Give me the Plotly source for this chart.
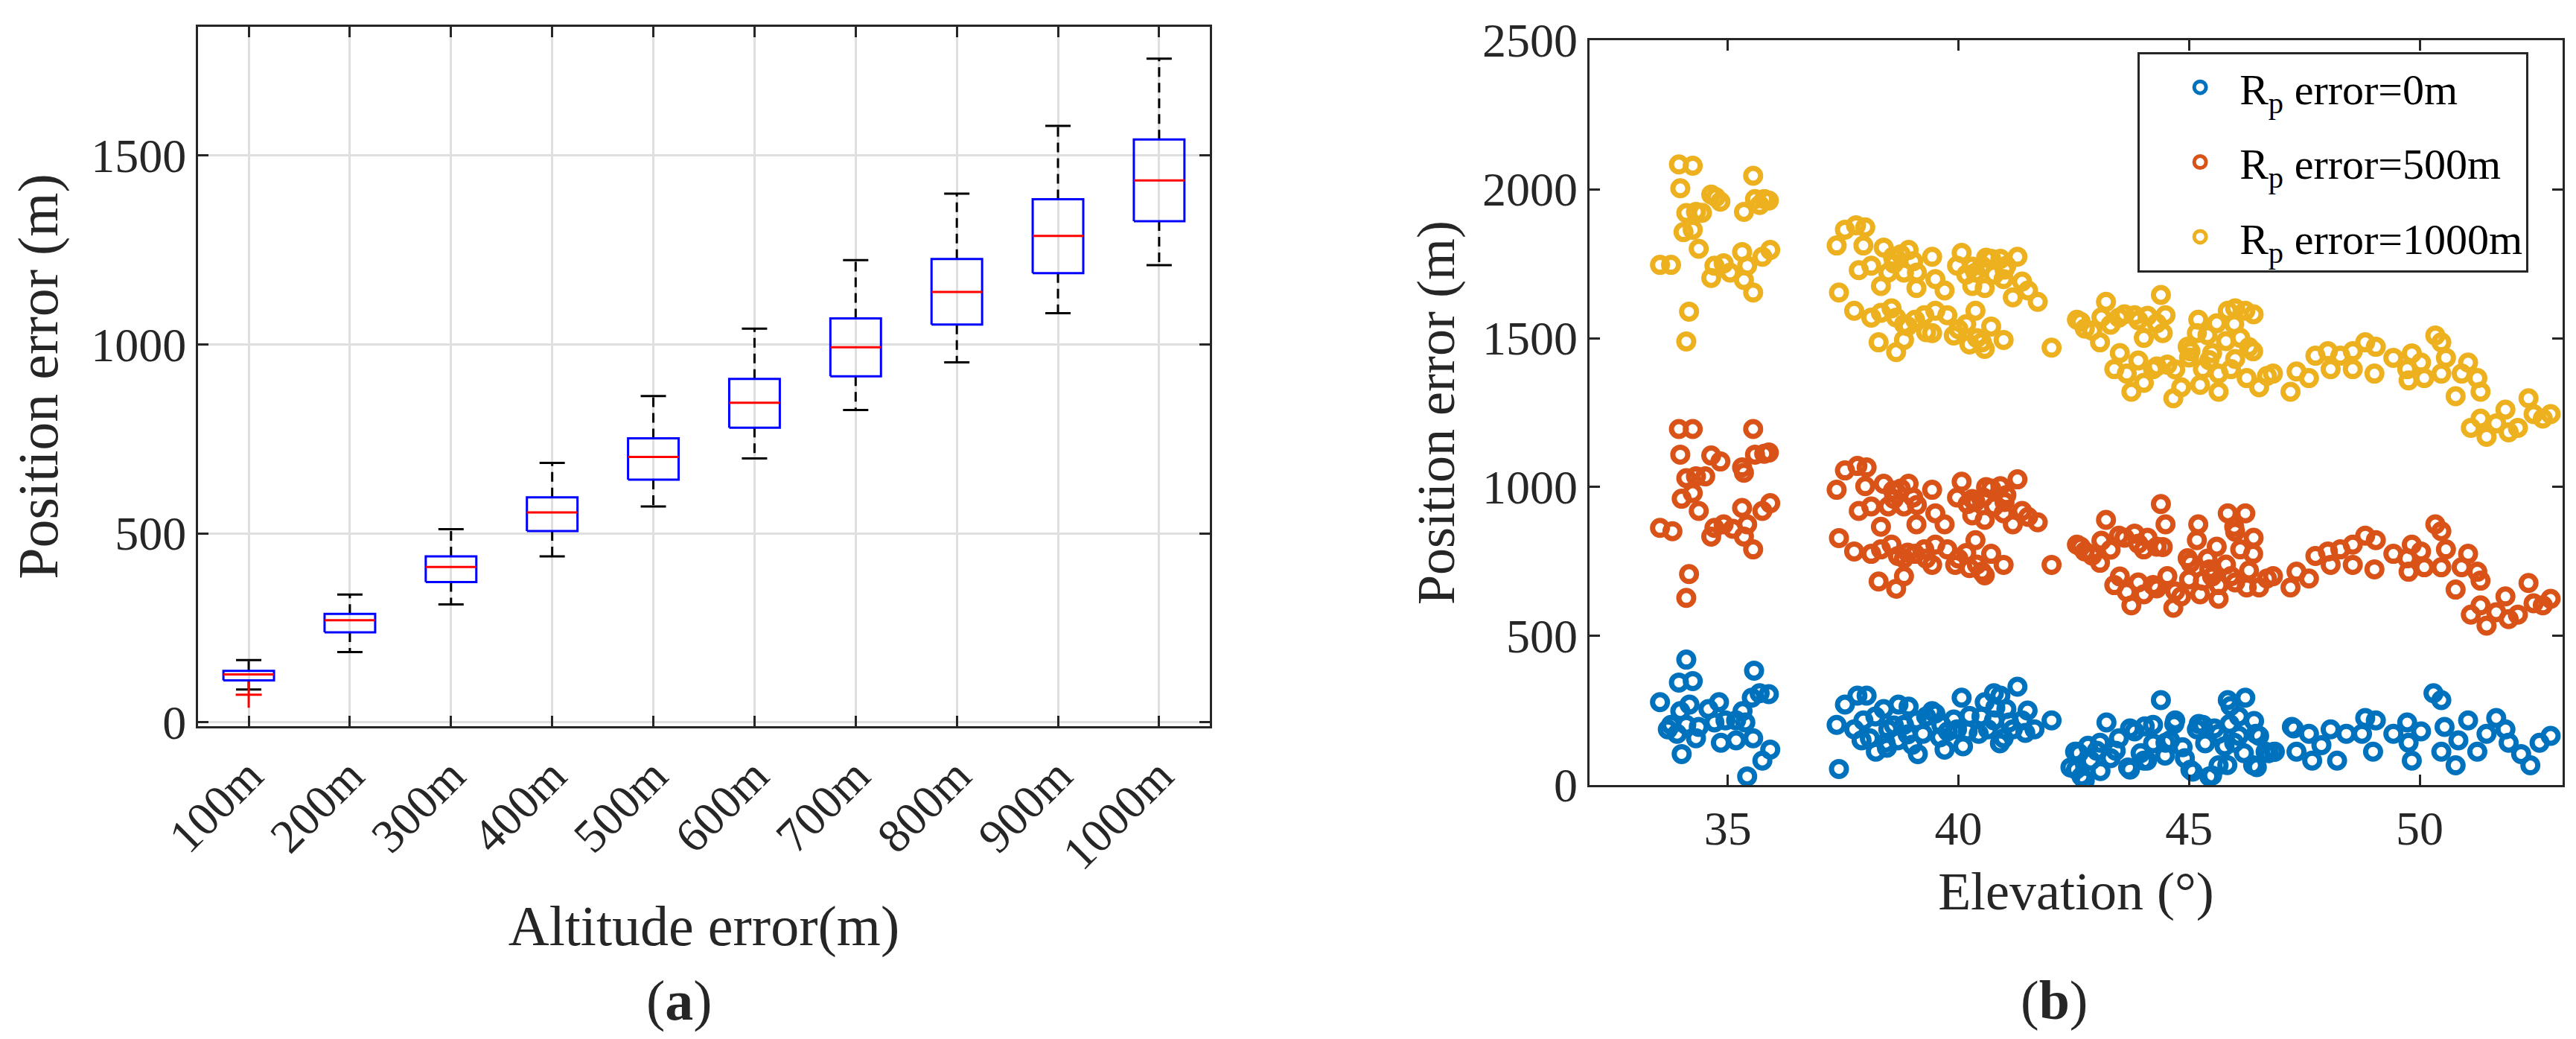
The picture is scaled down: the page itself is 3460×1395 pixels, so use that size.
import plotly.graph_objects as go

# ---- panel (a): box plot summary ----
alt_labels = ['100m', '200m', '300m', '400m', '500m', '600m', '700m', '800m', '900m', '1000m']
whisk_lo = [87, 186, 312, 439, 571, 698, 826, 952, 1082, 1209]
box_q1 = [111, 238, 371, 506, 642, 779, 915, 1052, 1188, 1325]
box_med = [127, 270, 411, 555, 702, 845, 992, 1138, 1286, 1433]
box_q3 = [136, 287, 439, 595, 751, 908, 1068, 1225, 1383, 1541]
whisk_hi = [165, 338, 511, 686, 863, 1041, 1222, 1398, 1577, 1755]
outlier_cat = [0]
outlier_val = [73]

# ---- panel (b): scatter ----
elev_0 = [34.10, 35.57, 33.94, 34.24, 33.53, 34.17, 33.97, 34.58, 34.81, 35.32, 35.52, 35.69, 35.89, 33.70, 33.90,
          34.10, 34.37, 34.71, 34.95, 35.18, 35.38, 34.31, 34.85, 35.18, 35.55, 34.00, 35.92, 35.75, 35.42, 33.77,
          37.36, 37.54, 37.81, 38.01, 37.41, 37.74, 37.94, 38.08, 38.21, 38.38, 38.48, 38.69, 38.92, 39.09, 39.23,
          39.12, 39.43, 39.63, 39.70, 39.97, 40.07, 40.24, 40.44, 40.57, 40.77, 40.91, 41.04, 41.28, 40.77, 40.98,
          41.18, 41.38, 41.65, 42.02, 38.82, 39.77, 40.64, 38.42,
          38.20, 38.60, 38.90, 39.30, 39.60, 39.90, 40.20, 40.50, 40.80, 41.10, 41.45, 38.45, 39.00, 39.50, 40.10,
          40.90, 41.50, 38.70, 37.90,
          42.43, 42.53, 42.57, 42.67, 42.87, 43.07, 43.21, 43.48, 43.68, 43.82, 44.02, 44.22, 44.39, 44.49, 44.70,
          44.86, 45.03, 45.17, 45.44, 45.64, 45.84, 45.98, 46.22, 46.45, 46.39, 46.66, 46.86, 45.30, 45.64, 47.23,
          47.33, 47.60, 47.67, 47.87, 48.07, 48.21, 48.41, 48.75, 48.82, 49.05, 48.99, 49.43, 49.73, 49.76, 49.83,
          50.03, 50.30, 50.47, 50.54, 50.47, 50.78, 50.84, 51.05, 51.25, 51.45, 51.66, 51.86, 51.93, 52.20, 52.40,
          52.60, 52.84,
          42.61, 42.55, 42.74, 43.08, 43.72, 44.09, 44.48, 43.72, 44.04, 44.68, 45.21, 45.55, 46.41, 46.52, 46.73,
          46.84, 46.47, 45.83, 45.50, 45.08, 44.91, 43.41, 43.00, 44.22, 44.59, 45.35, 45.77, 46.08, 46.19, 42.81,
          43.95, 43.30, 45.88, 46.08, 45.90, 47.27]
err_0 = [421, 384, 344, 349, 278, 270, 248, 255, 278, 248, 293, 308, 305, 187, 172,
         202, 195, 210, 217, 217, 210, 157, 142, 150, 157, 104, 119, 82, 29, 202,
         202, 270, 300, 300, 54, 187, 217, 157, 112, 255, 187, 150, 263, 217, 172,
         104, 248, 202, 119, 187, 293, 232, 172, 278, 308, 300, 255, 330, 217, 157,
         187, 217, 187, 217, 202, 180, 187, 142,
         230, 200, 170, 230, 160, 220, 180, 230, 260, 210, 175, 125, 135, 240, 130,
         140, 250, 270, 150,
         59, 112, 112, 29, 82, 142, 210, 157, 59, 180, 82, 202, 285, 142, 217,
         127, 51, 187, 29, 66, 285, 142, 293, 172, 66, 112, 112, 202, 172, 195,
         112, 172, 82, 134, 187, 82, 172, 172, 225, 217, 112, 172, 210, 142, 82,
         180, 308, 285, 195, 112, 66, 150, 217, 112, 172, 225, 187, 142, 104, 66,
         142, 165,
         107, 52, 15, 47, 52, 82, 99, 190, 197, 205, 205, 190, 215, 165, 107,
         111, 60, 67, 32, 45, 90, 115, 115, 140, 150, 140, 130, 165, 107, 132,
         107, 90, 205, 230, 265, 190]

elev_500 = [33.94, 34.24, 35.55, 33.97, 34.64, 34.84, 35.31, 35.59, 35.79, 35.89, 34.10, 34.31, 34.51, 35.35, 34.00,
            34.24, 34.37, 33.53, 33.80, 34.71, 34.91, 34.64, 35.11, 35.31, 35.42, 35.35, 35.75, 35.92, 35.55, 34.16,
            34.10,
            37.36, 37.54, 37.81, 38.01, 37.98, 37.41, 37.74, 37.84, 38.11, 38.38, 38.58, 38.75, 38.92, 39.02, 38.48,
            38.82, 38.32, 38.11, 38.32, 38.55, 38.69, 38.82, 38.27, 38.65, 38.82, 39.09, 39.43, 39.50, 39.70, 39.06,
            39.26, 39.43, 39.50, 39.76, 39.93, 40.07, 39.97, 40.20, 40.37, 40.54, 40.71, 40.91, 40.77, 41.04, 41.28,
            40.30, 40.57, 40.98, 41.38, 41.51, 41.72, 41.18, 40.37, 40.17, 40.24, 40.51, 40.57, 40.71, 40.98, 42.02,
            38.60, 39.10, 40.30, 40.60, 41.00, 38.90, 39.30, 40.00, 40.40,
            42.57, 42.74, 43.07, 43.20, 43.48, 43.82, 44.02, 44.39, 44.49, 44.43, 43.38, 43.65, 43.75, 44.02, 44.22,
            44.53, 44.66, 44.83, 44.97, 45.20, 45.17, 45.03, 45.30, 45.44, 45.24, 45.64, 45.84, 45.98, 46.22, 46.11,
            46.39, 45.91, 46.25, 46.52, 46.69, 46.82, 45.64, 47.20, 47.33, 47.60, 47.74, 48.01, 48.28, 48.55, 48.82,
            49.05, 48.07, 48.55, 49.02, 49.43, 49.73, 49.83, 50.03, 49.76, 50.10, 50.34, 50.47, 50.57, 50.47, 50.78,
            50.91, 51.05, 51.25, 51.32, 51.11, 51.32, 51.45, 51.66, 51.86, 51.93, 52.13, 52.36, 52.47, 52.67, 52.84,
            42.65, 42.90, 43.10, 43.30, 43.60, 43.90, 44.10, 44.30, 43.50, 43.90, 44.30, 44.70, 45.00, 45.50, 45.80,
            46.00, 46.30, 45.60, 46.00, 46.40, 45.40]
err_500 = [1195, 1195, 1195, 1109, 1106, 1086, 1066, 1109, 1112, 1116, 1030, 1036, 1036, 1048, 961,
           980, 920, 863, 852, 863, 875, 834, 860, 930, 875, 834, 920, 946, 791, 708,
           628,
           991, 1056, 1071, 1066, 1003, 829, 784, 920, 935, 1011, 988, 995, 1011, 965, 935,
           935, 867, 776, 791, 807, 769, 761, 683, 659, 701, 875, 991, 912, 875, 776,
           791, 739, 807, 791, 739, 1018, 965, 943, 950, 965, 995, 1003, 935, 973, 1026,
           905, 890, 912, 920, 900, 882, 875, 822, 779, 728, 716, 704, 776, 739, 739,
           960, 940, 960, 1000, 950, 780, 760, 760, 740,
           807, 784, 746, 890, 837, 844, 791, 943, 875, 799, 671, 648, 603, 640, 671,
           701, 595, 633, 761, 875, 822, 746, 686, 724, 640, 625, 912, 867, 912, 791,
           776, 701, 663, 663, 693, 701, 671, 663, 716, 693, 769, 784, 791, 807, 837,
           822, 739, 739, 724, 776, 761, 807, 784, 716, 731, 875, 852, 791, 731, 656,
           731, 776, 716, 686, 572, 603, 535, 580, 633, 557, 572, 678, 610, 603, 625,
           800, 770, 820, 790, 830, 810, 830, 800, 700, 680, 660, 650, 690, 700, 740,
           680, 720, 800, 850, 830, 760]

elev_1000 = [33.94, 34.24, 35.55, 33.97, 34.64, 34.84, 34.74, 34.10, 34.31, 34.44, 35.35, 35.59, 35.79, 35.89, 35.69,
             34.04, 34.24, 34.37, 33.53, 33.77, 34.71, 34.91, 34.64, 35.31, 35.92, 35.75, 35.42, 35.35, 35.55, 35.05,
             34.16, 34.10,
             37.36, 37.54, 37.78, 37.98, 37.94, 37.41, 37.74, 37.84, 38.11, 38.38, 38.58, 38.75, 38.92, 39.02, 38.48,
             38.82, 38.32, 38.11, 38.32, 38.55, 38.65, 38.82, 38.27, 38.65, 38.82, 39.09, 39.43, 39.50, 39.70, 39.06,
             39.26, 39.43, 39.50, 39.76, 39.90, 40.07, 39.97, 40.17, 40.37, 40.51, 40.71, 40.91, 40.77, 41.04, 41.28,
             40.30, 40.57, 40.98, 41.38, 41.51, 41.72, 41.18, 40.37, 40.17, 40.24, 40.51, 40.57, 40.71, 40.98, 42.02,
             38.60, 39.10, 40.30, 40.60, 41.00, 38.90, 39.30, 40.00, 40.40,
             42.57, 42.74, 43.07, 43.20, 43.48, 43.82, 44.02, 44.39, 44.49, 44.43, 43.38, 43.65, 43.75, 44.02, 44.22,
             44.53, 44.66, 44.83, 44.97, 45.20, 45.17, 45.03, 45.30, 45.44, 45.24, 45.64, 45.84, 45.98, 46.22, 46.11,
             46.39, 45.91, 46.25, 46.52, 46.69, 46.82, 45.64, 47.20, 47.33, 47.60, 47.74, 48.01, 48.28, 48.55, 48.82,
             49.05, 48.07, 48.55, 49.02, 49.43, 49.73, 49.83, 50.03, 49.76, 50.10, 50.34, 50.47, 50.57, 50.47, 50.78,
             50.91, 51.05, 51.25, 51.32, 51.11, 51.32, 51.45, 51.66, 51.86, 51.93, 52.13, 52.36, 52.47, 52.67, 52.84,
             42.65, 42.90, 43.10, 43.30, 43.60, 43.90, 44.10, 44.30, 43.50, 43.90, 44.30, 44.70, 45.00, 45.50, 45.80,
             46.00, 46.30, 45.60, 46.00, 46.40, 45.40]
err_1000 = [2083, 2079, 2045, 2003, 1982, 1958, 1973, 1920, 1924, 1921, 1924, 1967, 1967, 1962, 1947,
            1856, 1864, 1800, 1746, 1746, 1743, 1751, 1702, 1789, 1796, 1773, 1743, 1695, 1653, 1720,
            1589, 1489,
            1811, 1864, 1879, 1872, 1811, 1653, 1592, 1728, 1743, 1804, 1773, 1781, 1796, 1758, 1720,
            1720, 1675, 1569, 1585, 1600, 1569, 1547, 1486, 1453, 1494, 1668, 1773, 1698, 1660, 1562,
            1577, 1517, 1592, 1577, 1509, 1786, 1743, 1713, 1720, 1743, 1766, 1766, 1713, 1743, 1773,
            1675, 1668, 1698, 1690, 1660, 1622, 1637, 1592, 1547, 1479, 1486, 1464, 1539, 1494, 1468,
            1750, 1720, 1740, 1770, 1730, 1540, 1520, 1530, 1500,
            1562, 1532, 1486, 1622, 1569, 1577, 1501, 1645, 1577, 1517, 1396, 1381, 1320, 1350, 1396,
            1411, 1298, 1335, 1471, 1562, 1517, 1456, 1396, 1426, 1343, 1320, 1592, 1547, 1592, 1501,
            1456, 1396, 1366, 1335, 1373, 1381, 1381, 1320, 1388, 1366, 1441, 1456, 1441, 1456, 1486,
            1471, 1396, 1396, 1381, 1434, 1396, 1449, 1418, 1358, 1366, 1509, 1486, 1434, 1381, 1305,
            1381, 1418, 1366, 1320, 1199, 1230, 1169, 1214, 1260, 1184, 1199, 1298, 1245, 1230, 1245,
            1555, 1525, 1570, 1545, 1580, 1560, 1575, 1550, 1450, 1425, 1405, 1395, 1435, 1450, 1490,
            1430, 1470, 1550, 1600, 1580, 1510]

FONT = 'Liberation Serif'
AX = '#262626'

fig = go.Figure()

# build box outlines, medians, whiskers and caps from the summary arrays
bx, by, mx, my, wx, wy, cx, cy = [], [], [], [], [], [], [], []
hw, cw = 0.25, 0.125
for i in range(len(alt_labels)):
    bx += [i - hw, i + hw, i + hw, i - hw, i - hw, None]
    by += [box_q1[i], box_q1[i], box_q3[i], box_q3[i], box_q1[i], None]
    mx += [i - hw, i + hw, None]
    my += [box_med[i], box_med[i], None]
    wx += [i, i, None, i, i, None]
    wy += [box_q3[i], whisk_hi[i], None, box_q1[i], whisk_lo[i], None]
    cx += [i - cw, i + cw, None, i - cw, i + cw, None]
    cy += [whisk_hi[i], whisk_hi[i], None, whisk_lo[i], whisk_lo[i], None]

fig.add_trace(go.Scatter(x=wx, y=wy, mode='lines', line=dict(color='black', width=3, dash='13px,8px'),
                         showlegend=False, xaxis='x', yaxis='y'))
fig.add_trace(go.Scatter(x=cx, y=cy, mode='lines', line=dict(color='black', width=3),
                         showlegend=False, xaxis='x', yaxis='y'))
fig.add_trace(go.Scatter(x=bx, y=by, mode='lines', line=dict(color='#0000ff', width=3),
                         showlegend=False, xaxis='x', yaxis='y'))
fig.add_trace(go.Scatter(x=mx, y=my, mode='lines', line=dict(color='#ff0000', width=3),
                         showlegend=False, xaxis='x', yaxis='y'))
fig.add_trace(go.Scatter(x=outlier_cat, y=outlier_val, mode='markers',
                         marker=dict(symbol='cross-thin', size=25, line=dict(color='#ff0000', width=3)),
                         showlegend=False, xaxis='x', yaxis='y'))

series = [
    (elev_0, err_0, '#0072BD', 'R<sub>p</sub> error=0m'),
    (elev_500, err_500, '#D95319', 'R<sub>p</sub> error=500m'),
    (elev_1000, err_1000, '#EDB120', 'R<sub>p</sub> error=1000m'),
]
for k, (xs, ys, col, name) in enumerate(series):
    fig.add_trace(go.Scatter(x=xs, y=ys, mode='markers', name=name, legendgroup='g%d' % k,
                             marker=dict(symbol='circle-open', size=20, color=col, line=dict(width=7)),
                             xaxis='x2', yaxis='y2'))

axis_common = dict(showline=True, linewidth=3, linecolor=AX, mirror='ticks', ticks='inside',
                   ticklen=14, tickwidth=3, tickcolor=AX, zeroline=False, automargin=False,
                   tickfont=dict(family=FONT, size=64, color=AX))


def title(text, size, standoff):
    return dict(text=text, standoff=standoff, font=dict(family=FONT, size=size, color=AX))


fig.update_layout(
    width=3460, height=1395,
    margin=dict(l=0, r=0, t=0, b=0, pad=0),
    paper_bgcolor='white', plot_bgcolor='white',
    font=dict(family=FONT, color=AX),
    xaxis=dict(domain=[0.0746, 0.4673], range=[-0.5, 9.5], tickvals=list(range(len(alt_labels))),
               ticktext=alt_labels, tickangle=-45, showgrid=True, gridcolor='#dfdfdf', gridwidth=3,
               anchor='y', title=title('Altitude error(m)', 76, 36), **axis_common),
    yaxis=dict(domain=[0.3068, 0.9799], range=[-10, 1839], tickvals=[0, 500, 1000, 1500],
               showgrid=True, gridcolor='#dfdfdf', gridwidth=3, anchor='x',
               title=title('Position error (m)', 76, 20), **axis_common),
    xaxis2=dict(domain=[0.6147, 0.9925], range=[32, 53.1], tickvals=[35, 40, 45, 50],
                showgrid=False, anchor='y2', title=title('Elevation (°)', 72, 24), **axis_common),
    yaxis2=dict(domain=[0.2502, 0.967], range=[0, 2500], tickvals=[0, 500, 1000, 1500, 2000, 2500],
                showgrid=False, anchor='x2', title=title('Position error (m)', 72, 14), **axis_common),
    legend=dict(x=0.8275, y=0.9556, xanchor='left', yanchor='top', bgcolor='white',
                bordercolor=AX, borderwidth=3, tracegroupgap=22, itemwidth=96, indentation=28,
                font=dict(family=FONT, size=58, color='black')),
)

# panel letters under each chart
fig.add_annotation(text='(<b>a</b>)', x=0.2613, y=0.043, xref='paper', yref='paper', showarrow=False,
                   xanchor='center', yanchor='middle', font=dict(family=FONT, size=76, color=AX))
fig.add_annotation(text='(<b>b</b>)', x=0.7951, y=0.043, xref='paper', yref='paper', showarrow=False,
                   xanchor='center', yanchor='middle', font=dict(family=FONT, size=74, color=AX))

fig.write_html("out.html")
